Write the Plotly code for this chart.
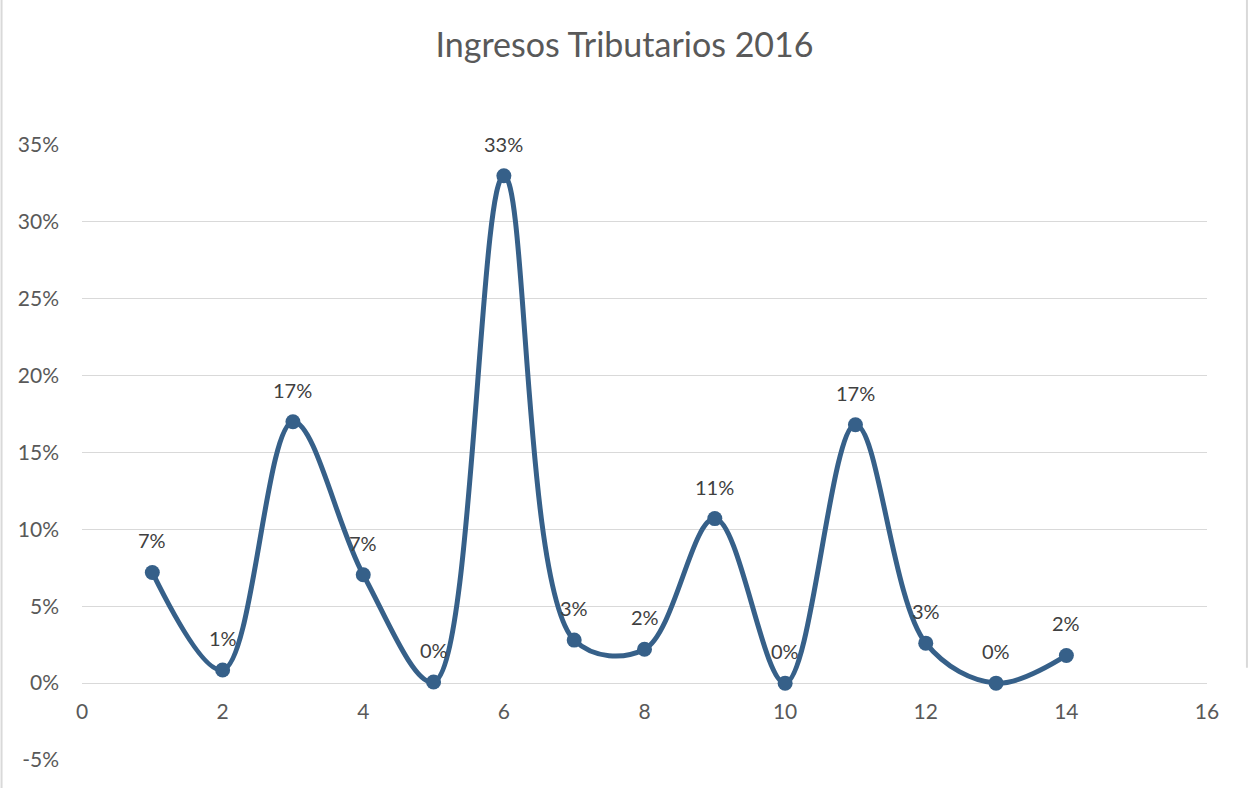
import plotly.graph_objects as go

# Datos
meses = [1, 2, 3, 4, 5, 6, 7, 8, 9, 10, 11, 12, 13, 14]
participacion = [0.072, 0.0085, 0.170, 0.0705, 0.0007, 0.330, 0.028, 0.022,
                 0.107, 0.0, 0.168, 0.026, 0.0, 0.018]

titulo = "Ingresos Tributarios 2016"
y_ticks = [-0.05, 0, 0.05, 0.10, 0.15, 0.20, 0.25, 0.30, 0.35]
x_ticks = [0, 2, 4, 6, 8, 10, 12, 14, 16]

LINEA = "#366089"
GRIS_TEXTO = "#595959"
GRIS_ETIQ = "#404040"
GRID = "#d9d9d9"
FUENTE = "Lato, 'Open Sans', sans-serif"

fig = go.Figure()
fig.add_trace(go.Scatter(
    x=meses, y=participacion, mode="lines+markers",
    line=dict(color=LINEA, width=5, shape="spline", smoothing=1),
    marker=dict(color=LINEA, size=15),
    hoverinfo="x+y", showlegend=False,
))

# etiquetas de datos (encima de cada punto)
for xv, yv in zip(meses, participacion):
    fig.add_annotation(x=xv, y=yv, text=f"{yv:.0%}", showarrow=False,
                       yshift=32, font=dict(family=FUENTE, size=20, color=GRIS_ETIQ))

fig.update_layout(
    title=dict(text=titulo, x=0.5, xref="container", y=1 - 45 / 788,
               yref="container", yanchor="middle",
               font=dict(family=FUENTE, size=34, color=GRIS_TEXTO)),
    width=1249, height=788,
    paper_bgcolor="white", plot_bgcolor="white",
    margin=dict(l=82, r=42, t=145, b=28),
    font=dict(family=FUENTE, color=GRIS_TEXTO),
)

fig.update_xaxes(
    range=[0, 16], tickvals=x_ticks, ticktext=[str(v) for v in x_ticks],
    showgrid=False, zeroline=False, showline=False,
    anchor="free", position=0.125, ticks="", ticklabelstandoff=14,
    tickfont=dict(family=FUENTE, size=21, color=GRIS_TEXTO),
)
fig.update_yaxes(
    range=[-0.05, 0.35], tickvals=y_ticks,
    ticktext=[f"{round(v * 100)}%" for v in y_ticks],
    showgrid=True, gridcolor=GRID, gridwidth=1.3,
    zeroline=True, zerolinecolor=GRID, zerolinewidth=1.3,
    showline=False, ticks="", ticklabelstandoff=22,
    tickfont=dict(family=FUENTE, size=21, color=GRIS_TEXTO),
)

# borde del área del gráfico (recortado en la imagen)
fig.add_shape(type="line", xref="paper", yref="paper",
              x0=-0.0715, x1=-0.0715, y0=-0.06, y1=1.25,
              line=dict(color="#d9d9d9", width=2))
fig.add_shape(type="line", xref="paper", yref="paper",
              x0=1.0355, x1=1.0355, y0=0.15, y1=1.25,
              line=dict(color="#d9d9d9", width=2))

# sin margen en el body para que la figura ocupe exactamente la ventana
fig.write_html("out.html", config={"displayModeBar": False},
               post_script="document.body.style.margin='0';document.body.style.overflow='hidden';")
